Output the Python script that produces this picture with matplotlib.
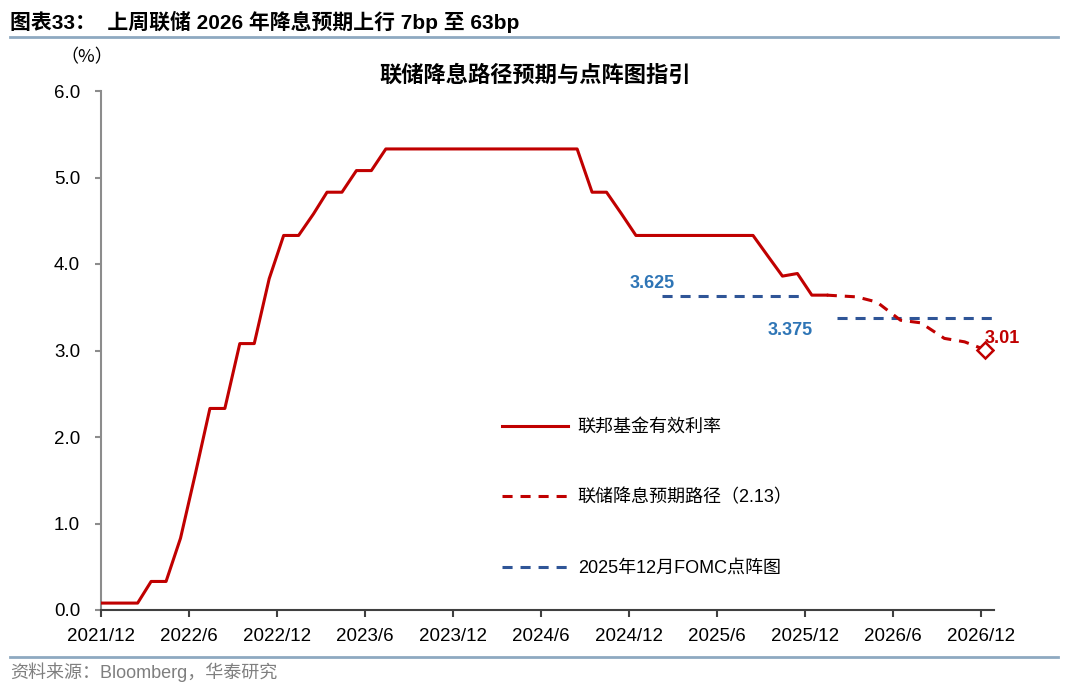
import pandas as pd
import matplotlib.pyplot as plt
from matplotlib.lines import Line2D

# Fonts: Arial-like for latin, CJK fallback for Chinese
plt.rcParams.update({
    'font.family': ['Liberation Sans', 'Noto Sans CJK SC'],
    'font.size': 13,
    'axes.unicode_minus': False,
})

RED = '#C00000'
NAVY = '#2F5597'
LABEL_BLUE = '#2E75B6'
RULE = '#8EA9C1'

# Effective fed funds rate (%), one value per month 2021/12 .. 2026/1
effr_dates = [pd.Timestamp('2021-12-01')] + list(
    pd.date_range('2022-01-15', periods=49, freq=pd.DateOffset(months=1)))
effr = [0.08,
        0.08, 0.08, 0.33, 0.33, 0.83, 1.58, 2.33, 2.33, 3.08, 3.08, 3.83, 4.33,
        4.33, 4.58, 4.83, 4.83, 5.08, 5.08, 5.33, 5.33, 5.33, 5.33, 5.33, 5.33,
        5.33, 5.33, 5.33, 5.33, 5.33, 5.33, 5.33, 5.33, 4.83, 4.83, 4.58, 4.33,
        4.33, 4.33, 4.33, 4.33, 4.33, 4.33, 4.33, 4.33, 4.09, 3.86, 3.89, 3.64,
        3.64]

# Market-implied path (as of 2.13), by FOMC meeting
path_dates = pd.to_datetime(['2026-01-15', '2026-03-18', '2026-04-29', '2026-06-17',
                             '2026-07-29', '2026-09-16', '2026-10-28', '2026-12-09'])
path = [3.64, 3.62, 3.56, 3.35, 3.32, 3.14, 3.10, 3.01]

# Dec 2025 FOMC dot plot medians
dot_2025_span = pd.to_datetime(['2025-02-07', '2025-11-25'])
dot_2025 = 3.625
dot_2026_span = pd.to_datetime(['2026-02-05', '2026-12-26'])
dot_2026 = 3.375

x_ticks = pd.date_range('2021-12-01', '2026-12-01', freq='6MS')
x_tick_labels = ['2021/12', '2022/6', '2022/12', '2023/6', '2023/12', '2024/6',
                 '2024/12', '2025/6', '2025/12', '2026/6', '2026/12']
y_ticks = [0, 1, 2, 3, 4, 5, 6]

W, H = 1068, 686
fig = plt.figure(figsize=(W / 100, H / 100), dpi=100)
ax = fig.add_axes([101 / W, 76 / H, 893 / W, 519 / H])

dash = (3.3, 2.6)
ax.plot(dot_2025_span, [dot_2025, dot_2025], color=NAVY, lw=2.2, dashes=dash,
        label='2025年12月FOMC点阵图', zorder=2)
ax.plot(dot_2026_span, [dot_2026, dot_2026], color=NAVY, lw=2.2, dashes=dash, zorder=2)
ax.plot(effr_dates, effr, color=RED, lw=2.2, label='联邦基金有效利率', zorder=3)
ax.plot(path_dates, path, color=RED, lw=2.2, dashes=dash,
        label='联储降息预期路径（2.13）', zorder=3)
ax.plot(path_dates[-1:], path[-1:], ls='none', marker='D', ms=8,
        mfc='white', mec=RED, mew=1.8, zorder=4)

# value labels
ax.text(pd.Timestamp('2025-01-17'), 3.78, f'{dot_2025:.3f}', color=LABEL_BLUE,
        fontweight='bold', ha='center', va='center', fontsize=13)
ax.text(pd.Timestamp('2025-10-31'), 3.23, f'{dot_2026:.3f}', color=LABEL_BLUE,
        fontweight='bold', ha='center', va='center', fontsize=13)
ax.text(pd.Timestamp('2026-12-09'), 3.14, f'{path[-1]:.2f}', color=RED,
        fontweight='bold', ha='left', va='center', fontsize=13)

# axes formatting
ax.set_xlim(pd.Timestamp('2021-12-01'), pd.Timestamp('2026-12-28'))
ax.set_ylim(0, 6)
ax.set_xticks(x_ticks)
ax.set_xticklabels(x_tick_labels, fontsize=13.5)
ax.set_yticks(y_ticks)
ax.set_yticklabels([f'{v:.1f}' for v in y_ticks], fontsize=13.5)
for s in ['top', 'right']:
    ax.spines[s].set_visible(False)
ax.spines['left'].set_color('#8C8C8C')
ax.spines['left'].set_linewidth(1.5)
ax.spines['bottom'].set_color('#404040')
ax.spines['bottom'].set_linewidth(1.5)
ax.tick_params(axis='y', direction='out', length=4, width=1.5, color='#8C8C8C', pad=11)
ax.tick_params(axis='x', direction='out', length=5, width=1.5, color='#404040', pad=8)

handles, labels = ax.get_legend_handles_labels()
order = [1, 2, 0]
ax.legend([handles[i] for i in order], [labels[i] for i in order],
          loc='center left', bbox_to_anchor=(0.449, 0.2158), frameon=False,
          fontsize=13, handlelength=3.65, handletextpad=0.55, labelspacing=2.95,
          borderaxespad=0, borderpad=0)

# chart title and frame texts
fig.text(535 / W, 1 - 76 / H, '联储降息路径预期与点阵图指引', ha='center', va='center',
         fontsize=16, fontweight='bold')
fig.text(87 / W, 1 - 57 / H, '（%）', ha='center', va='center', fontsize=13,
         family=['Noto Sans CJK SC', 'DejaVu Sans'])
fig.text(10 / W, 1 - 22 / H, '图表33：  上周联储 2026 年降息预期上行 7bp 至 63bp',
         ha='left', va='center', fontsize=15, fontweight='bold')
fig.text(10 / W, 1 - 672 / H, '资料来源：Bloomberg，华泰研究', ha='left', va='center',
         fontsize=13, color='#7F7F7F')
fig.add_artist(Line2D([10 / W, 1058 / W], [1 - 37 / H] * 2, color=RULE, lw=2))
fig.add_artist(Line2D([10 / W, 1058 / W], [1 - 657 / H] * 2, color=RULE, lw=2))

plt.savefig('out.png', dpi=100)
